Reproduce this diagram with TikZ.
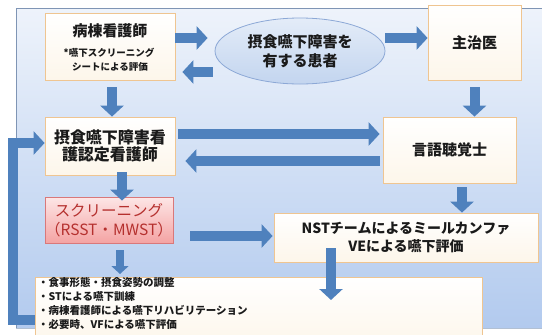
\documentclass[tikz,border=0pt]{standalone}
\usepackage{fontspec}
\setmainfont{Noto Sans CJK JP}
\usetikzlibrary{arrows.meta,shapes.geometric}
\definecolor{bgtop}{HTML}{EEF3FB}
\definecolor{bgbot}{HTML}{B2CAEE}
\definecolor{bgline}{HTML}{7F95B5}
\definecolor{boxborder}{HTML}{EFC591}
\definecolor{boxcream}{HTML}{FDF6EA}
\definecolor{arrowblue}{HTML}{4F81BD}
\definecolor{scrtop}{HTML}{FDE6E6}
\definecolor{scrbot}{HTML}{F4A3A3}
\definecolor{scrborder}{HTML}{D9787A}
\definecolor{scrtext}{HTML}{B5302E}
\definecolor{elltop}{HTML}{E4ECF8}
\definecolor{ellbot}{HTML}{C3D5EF}
\definecolor{ellborder}{HTML}{8CA8D6}
\definecolor{txt}{HTML}{1A1A1A}
\begin{document}
\begin{tikzpicture}[x=1pt,y=-1pt,
  box/.style={rectangle, draw=boxborder, line width=0.8pt, top color=white, bottom color=boxcream, inner sep=0pt, text=txt, align=center},
  blk/.style={line width=10pt, draw=arrowblue, -{Triangle[width=23pt,length=11pt]}},
  blksmall/.style={line width=8pt, draw=arrowblue, -{Triangle[width=17pt,length=8pt]}},
  loopline/.style={line width=10pt, draw=arrowblue, line join=miter, -{Triangle[width=23pt,length=11pt]}},
  big/.style={font=\fontsize{15}{19}\selectfont\bfseries},
  small/.style={font=\fontsize{9.5}{12}\selectfont\bfseries, text=txt},
]
\useasboundingbox (0,0) rectangle (542,335);
\fill[white] (0,0) rectangle (542,335);
% background panel
\shade[top color=bgtop, bottom color=bgbot] (16,8) rectangle (548,328);
\draw[bgline, line width=0.8pt] (16,328) -- (16,8) -- (548,8);
\draw[bgline!60, line width=0.6pt] (16,328) -- (548,328);

% boxes
\node[box, minimum width=130pt, minimum height=67pt] (ward) at (110,46.5) {};
\node[big, text=txt] (wardT) at (110,31) {病棟看護師};
\node[small] (wardS1) at (109,53) {*嚥下スクリーニング};
\node[small] (wardS2) at (110,67) {シートによる評価};

\node[ellipse, draw=ellborder, line width=0.8pt, top color=elltop, bottom color=ellbot,
      minimum width=170pt, minimum height=66pt, inner sep=0pt, align=center, big, text=txt] (pat) at (300,51)
      {摂食嚥下障害を\\有する患者};

\node[box, big, minimum width=93pt, minimum height=75pt] (doc) at (474.5,42.5) {主治医};

\node[box, minimum width=130pt, minimum height=58pt, font=\fontsize{16}{17}\selectfont\bfseries] (cert) at (110,146)
      {摂食嚥下障害看\\護認定看護師};

\node[box, big, minimum width=133pt, minimum height=66pt] (st) at (449.5,150) {言語聴覚士};

\node[rectangle, draw=scrborder, line width=0.8pt, top color=scrtop, bottom color=scrbot,
      minimum width=128pt, minimum height=46pt, inner sep=0pt, align=center, text=scrtext,
      font=\fontsize{15.5}{19}\selectfont] (scr) at (109,220) {スクリーニング\\（RSST・MWST）};

\node[box, minimum width=264pt, minimum height=49pt, font=\fontsize{14}{18}\selectfont\bfseries] (nst) at (406,237.5)
      {NSTチームによるミールカンファ\\VEによる嚥下評価};

% loop line from list box back to certified nurse
\draw[loopline] (35,320) -- (13,320) -- (13,143) -- (cert.west |- 0,143);

\node[box, minimum width=447pt, minimum height=70pt, anchor=north west] (list) at (35,277) {};
\node[anchor=north west, align=left, text=txt, inner sep=0pt,
      font=\fontsize{10.5}{14}\selectfont\bfseries] (items) at (38,277.5)
      {・食事形態・摂食姿勢の調整\\・STによる嚥下訓練\\・病棟看護師による嚥下リハビリテーション\\・必要時、VFによる嚥下評価};

% arrows
\draw[blk] ([yshift=8.5pt]ward.east) -- ([xshift=-7pt,yshift=13pt]pat.west);
\draw[blk] ([xshift=-2pt,yshift=-21pt]pat.west) -- ([xshift=7pt,yshift=-25.5pt]ward.east);
\draw[blk] ([yshift=13pt]pat.east) -- ([yshift=4.5pt]doc.west);
\draw[blk] ([yshift=-7pt]doc.south) -- (st.north -| doc.south);
\draw[blk] ([xshift=2pt,yshift=-7pt]ward.south) -- ([xshift=2pt]cert.north);
\draw[blk] ([xshift=3pt,yshift=12pt]cert.east) -- ([xshift=-3pt,yshift=16pt]st.west);
\draw[blk] ([xshift=-3pt,yshift=-11pt]st.west) -- ([xshift=10pt,yshift=-15pt]cert.east);
\draw[blk] ([xshift=12pt,yshift=3pt]cert.south) -- ([xshift=13pt,yshift=-4pt]scr.north);
\draw[blk] ([xshift=17pt,yshift=-16pt]scr.east) -- ([xshift=-1pt,yshift=1.5pt]nst.west);
\draw[blk] ([xshift=12.5pt,yshift=-4pt]st.south) -- ([xshift=56pt]nst.north);
\draw[blksmall] ([xshift=11pt,yshift=-7pt]scr.south) -- ([xshift=85pt,yshift=3pt]list.north west);
\draw[blk] ([xshift=-75pt,yshift=-10.5pt]nst.center) -- ([xshift=296pt,yshift=-23pt]list.north west);
\end{tikzpicture}
\end{document}
